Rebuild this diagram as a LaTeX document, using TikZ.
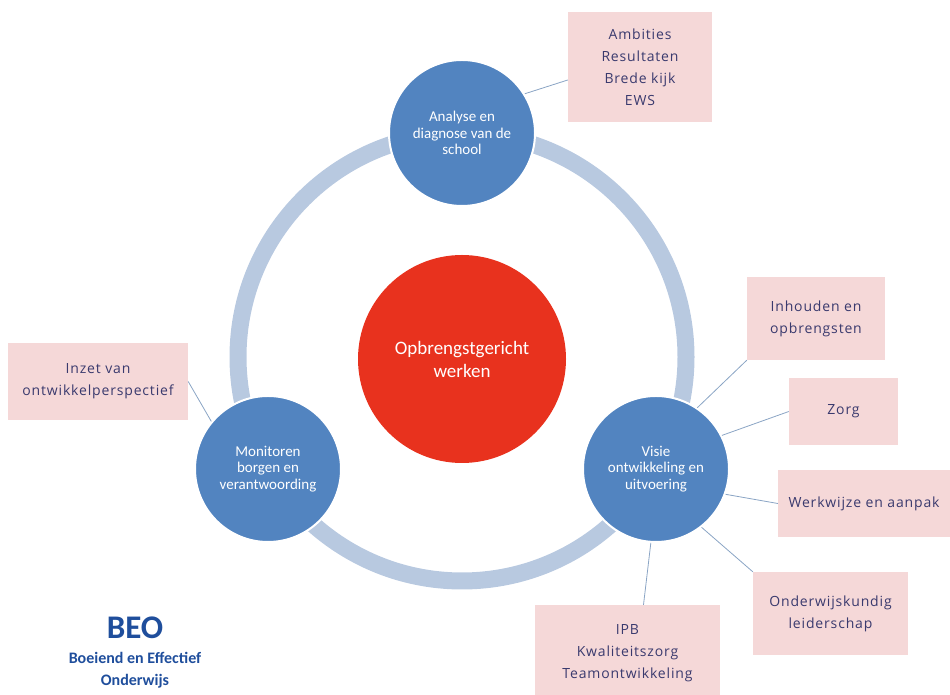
\documentclass[tikz,border=0pt]{standalone}
\usepackage{fontspec}
\setmainfont{Carlito}
\newfontfamily\notefont[LetterSpace=6]{Open Sans}
\usetikzlibrary{positioning,calc}
\definecolor{hubred}{HTML}{E8321E}
\definecolor{phaseblue}{HTML}{5284C0}
\definecolor{ringblue}{HTML}{B8C9E0}
\definecolor{notepink}{HTML}{F5D8D8}
\definecolor{notetext}{HTML}{3A3A6E}
\definecolor{linkgray}{HTML}{8AA4C4}
\definecolor{beoblue}{HTML}{1F4E9C}
\tikzset{
    hub/.style={circle, fill=hubred, text=white, minimum size=208pt, align=center, font=\fontsize{19}{23}\selectfont},
    phase/.style={circle, fill=phaseblue, draw=white, line width=2pt, minimum size=146pt, text=white, align=center, font=\fontsize{15}{16.5}\selectfont},
    note/.style={rectangle, fill=notepink, text=notetext, align=center, inner sep=0pt, font=\notefont\fontsize{14}{22}\selectfont},
    link/.style={draw=linkgray, line width=0.8pt},
    ring/.style={draw=ringblue, line width=17pt},
    brand/.style={text=beoblue, align=center, font=\bfseries\fontsize{16}{22}\selectfont}
}

\begin{document}
\begin{tikzpicture}[x=1pt, y=1pt]
    \useasboundingbox (0,0) rectangle (950,695);
    \coordinate (mid) at (462,338);
    \draw[ring] (mid) circle (224);

    \node[hub] (kern) at (462,336) {Opbrengstgericht\\werken};
    \node[phase] (analyse) at (462,562) {Analyse en\\diagnose van de\\school};
    \node[phase] (monitor) at (268,226) {Monitoren\\borgen en\\verantwoording};
    \node[phase] (visie) at (656,226) {Visie\\ontwikkeling en\\uitvoering};

    % notes round the phases
    \node[note, minimum width=144pt, minimum height=110pt] (ambities) at (640,628) {Ambities\\Resultaten\\Brede kijk\\EWS};
    \node[note, minimum width=180pt, minimum height=77pt] (inzet) at (98,313.5) {Inzet van\\ontwikkelperspectief};
    \node[note, minimum width=138pt, minimum height=83pt] (inhoud) at (816,376.5) {Inhouden en\\opbrengsten};
    \node[note, minimum width=109pt, minimum height=67pt] (zorg) at (843.5,283.5) {Zorg};
    \node[note, minimum width=172pt, minimum height=67pt] (werkwijze) at (864,191.5) {Werkwijze en aanpak};
    \node[note, minimum width=155pt, minimum height=83pt] (leiderschap) at (830.5,81.5) {Onderwijskundig\\leiderschap};
    \node[note, minimum width=185pt, minimum height=96pt] (ipb) at (627.5,42) {IPB\\Kwaliteitszorg\\Teamontwikkeling};

    \draw[link] (analyse.32) -- ([yshift=-13pt]ambities.west);
    \draw[link] (monitor.140) -- (inzet.east);
    \draw[link] (visie.56) -- (inhoud.south west);
    \draw[link] (visie.27) -- (zorg.west);
    \draw[link] (visie.-20) -- (werkwijze.west);
    \draw[link] (visie.-52) -- (leiderschap.north west);
    \draw[link] (visie.-94) -- ([xshift=16pt]ipb.north);

    \node[brand, font=\bfseries\fontsize{33}{36}\selectfont] (beo) at (135,67) {BEO};
    \node[brand, below=6pt of beo] (beotekst) {Boeiend en Effectief\\Onderwijs};
\end{tikzpicture}
\end{document}
